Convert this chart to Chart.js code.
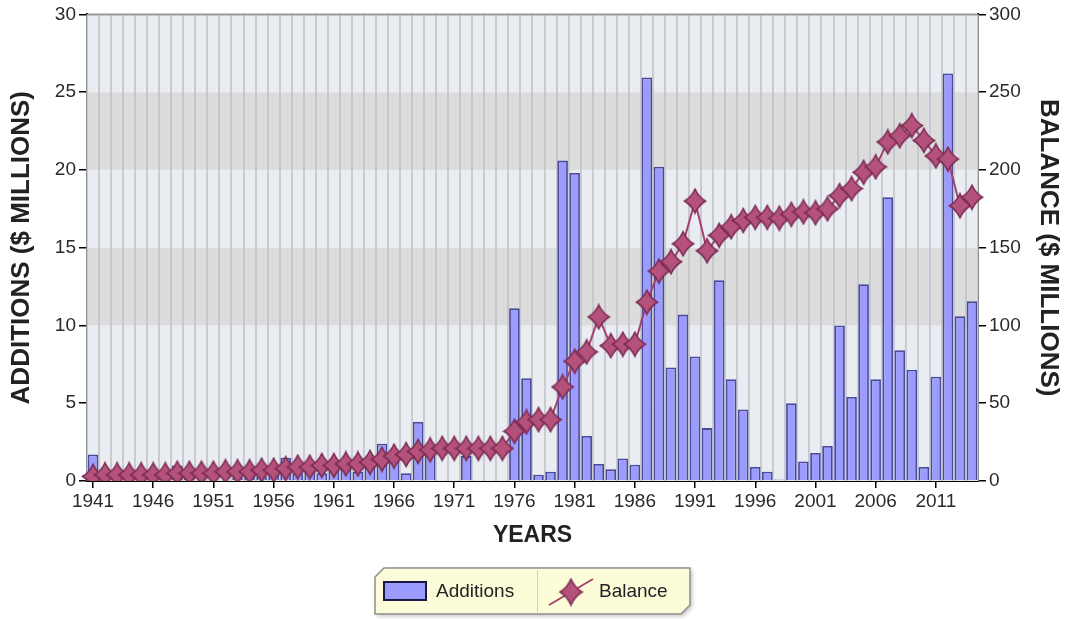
<!DOCTYPE html>
<html>
<head>
<meta charset="utf-8">
<script src="https://cdn.jsdelivr.net/npm/chart.js@4/dist/chart.umd.min.js"></script>
<style>
  html, body { margin: 0; padding: 0; background: #ffffff; }
  #wrap { width: 1065px; height: 619px; position: relative; }
</style>
</head>
<body>
<div id="wrap"><canvas id="c" width="1065" height="619"></canvas></div>
<script>
const years = ['1941','1942','1943','1944','1945','1946','1947','1948','1949','1950',
  '1951','1952','1953','1954','1955','1956','1957','1958','1959','1960',
  '1961','1962','1963','1964','1965','1966','1967','1968','1969','1970',
  '1971','1972','1973','1974','1975','1976','1977','1978','1979','1980',
  '1981','1982','1983','1984','1985','1986','1987','1988','1989','1990',
  '1991','1992','1993','1994','1995','1996','1997','1998','1999','2000',
  '2001','2002','2003','2004','2005','2006','2007','2008','2009','2010',
  '2011','2012','2013','2014'];

const additions = [1.7,0,0,0,0,0,0.2,1.0,0.3,0,
  0,0,0.2,0.3,0.3,0.5,1.5,0.5,0.8,0.5,
  0.8,0.9,0.6,1.2,2.4,1.4,0.5,3.8,1.7,0,
  0,1.6,0,0,0,11.1,6.6,0.4,0.6,20.6,
  19.8,2.9,1.1,0.75,1.45,1.05,25.95,20.2,7.3,10.7,
  8.0,3.4,12.9,6.55,4.6,0.9,0.6,0.1,5.0,1.25,
  1.8,2.25,10.0,5.4,12.65,6.55,18.25,8.4,7.15,0.9,
  6.7,26.2,10.6,11.55];

const balance = [3,4,4,4,4,4,4,5,5,5,
  5,6,6,6,7,7,8,9,9,10,
  10,11,11,12,14,16,17,19,20,21,
  21,21,21,21,21,32,38,39.5,39.5,60.5,
  77,83,105.5,87,88,88,115,135,141,152.5,
  180,148,158,163.5,167.5,169.5,169.5,169,171.5,173,
  172.5,175,183.5,188,198.5,202,218,222,228.5,219,
  209,207,177,182.5];

const leftTicks = [0,5,10,15,20,25,30];
const rightTicks = [0,50,100,150,200,250,300];
const seriesNames = ['Additions','Balance'];
const titles = { x: 'YEARS', y: 'ADDITIONS ($ MILLIONS)', y1: 'BALANCE ($ MILLIONS)' };

const FONT = "'Liberation Sans', Arial, sans-serif";

function makeStar(w, h, fill, stroke) {
  const c = document.createElement('canvas');
  c.width = w + 3; c.height = h + 3;
  const g = c.getContext('2d');
  const cx = c.width / 2, cy = c.height / 2;
  const kx = w * 0.17, ky = h * 0.17;
  g.beginPath();
  g.moveTo(cx, cy - h / 2);
  g.quadraticCurveTo(cx + kx, cy - ky, cx + w / 2, cy);
  g.quadraticCurveTo(cx + kx, cy + ky, cx, cy + h / 2);
  g.quadraticCurveTo(cx - kx, cy + ky, cx - w / 2, cy);
  g.quadraticCurveTo(cx - kx, cy - ky, cx, cy - h / 2);
  g.closePath();
  g.fillStyle = fill;
  g.fill();
  g.lineWidth = 1.5;
  g.strokeStyle = stroke;
  g.stroke();
  return c;
}
const starImg = makeStar(21, 24, '#b4527c', '#7a2a52');
const legendStar = makeStar(22, 26, '#b4527c', '#7a2a52');

const bgPlugin = {
  id: 'bands',
  beforeDatasetsDraw(chart) {
    const { ctx, chartArea: a, scales } = chart;
    const y = scales.y, x = scales.x;
    ctx.save();
    for (let i = 0; i < leftTicks.length - 1; i++) {
      const top = y.getPixelForValue(leftTicks[i + 1]);
      const bot = y.getPixelForValue(leftTicks[i]);
      const dark = (i === 2 || i === 4);
      ctx.fillStyle = dark ? '#dcdcdd' : '#e9ecf0';
      ctx.fillRect(a.left, top, a.right - a.left, bot - top);
    }
    const n = years.length;
    const w = (x.getPixelForValue(1) - x.getPixelForValue(0));
    ctx.strokeStyle = 'rgba(190,192,198,0.75)';
    ctx.lineWidth = 2;
    for (let i = 0; i <= n; i++) {
      const px = Math.round(x.getPixelForValue(0) - w / 2 + i * w);
      ctx.beginPath();
      ctx.moveTo(px, a.top);
      ctx.lineTo(px, a.bottom);
      ctx.stroke();
    }
    ctx.strokeStyle = '#9a9a9a';
    ctx.lineWidth = 2;
    ctx.beginPath();
    ctx.moveTo(a.left, a.top);
    ctx.lineTo(a.right, a.top);
    ctx.stroke();
    ctx.restore();
  },
  afterDraw(chart) {
    const ctx = chart.ctx;
    ctx.save();
    const L = 375, T = 568, R = 690, B = 614, cut = 9;
    ctx.shadowColor = 'rgba(0,0,0,0.25)';
    ctx.shadowBlur = 4;
    ctx.shadowOffsetX = 2;
    ctx.shadowOffsetY = 2;
    ctx.beginPath();
    ctx.moveTo(L + cut, T);
    ctx.lineTo(R, T);
    ctx.lineTo(R, B - cut);
    ctx.lineTo(R - cut, B);
    ctx.lineTo(L, B);
    ctx.lineTo(L, T + cut);
    ctx.closePath();
    ctx.fillStyle = '#fdfcd8';
    ctx.fill();
    ctx.shadowColor = 'transparent';
    ctx.lineWidth = 1.5;
    ctx.strokeStyle = '#8f8f8f';
    ctx.stroke();
    ctx.strokeStyle = '#cfcdb5';
    ctx.lineWidth = 1;
    ctx.beginPath();
    ctx.moveTo(537.5, T + 2);
    ctx.lineTo(537.5, B - 2);
    ctx.stroke();
    ctx.fillStyle = '#9c9cff';
    ctx.fillRect(384, 582, 42, 18);
    ctx.strokeStyle = '#1a1a40';
    ctx.lineWidth = 2;
    ctx.strokeRect(384, 582, 42, 18);
    ctx.font = '19px ' + FONT;
    ctx.fillStyle = '#222';
    ctx.textBaseline = 'middle';
    ctx.textAlign = 'left';
    ctx.fillText(chart.data.datasets[0].label, 436, 592);
    ctx.strokeStyle = '#a3426e';
    ctx.lineWidth = 2;
    ctx.beginPath();
    ctx.moveTo(549, 605);
    ctx.lineTo(593, 579);
    ctx.stroke();
    ctx.drawImage(legendStar, 571 - legendStar.width / 2, 592 - legendStar.height / 2);
    ctx.fillStyle = '#222';
    ctx.fillText(chart.data.datasets[1].label, 599, 592);
    ctx.restore();
  }
};

new Chart(document.getElementById('c'), {
  type: 'bar',
  data: {
    labels: years,
    datasets: [
      {
        type: 'bar',
        label: seriesNames[0],
        data: additions,
        yAxisID: 'y',
        backgroundColor: '#9c9cff',
        borderColor: '#4a4a9c',
        borderWidth: 1.8,
        categoryPercentage: 1.0,
        barPercentage: 0.88,
        order: 2
      },
      {
        type: 'line',
        label: seriesNames[1],
        data: balance,
        yAxisID: 'y1',
        borderColor: '#a3426e',
        borderWidth: 2,
        pointStyle: starImg,
        pointRadius: 10,
        tension: 0,
        order: 1
      }
    ]
  },
  options: {
    responsive: false,
    animation: false,
    layout: { padding: { top: 14, left: 0, right: 0, bottom: 66 } },
    plugins: { legend: { display: false }, tooltip: { enabled: false } },
    scales: {
      x: {
        offset: true,
        afterFit(s) { s.height = 72; },
        grid: { display: true, offset: false, drawOnChartArea: false, drawTicks: true, tickLength: 7, color: '#000', lineWidth: 1.5 },
        border: { display: true, color: '#000', width: 2 },
        ticks: {
          autoSkip: false, maxRotation: 0, padding: 2,
          color: '#2a2a2a', font: { family: FONT, size: 19 },
          callback(v, i) { return (i % 5 === 0) ? years[i] : null; }
        },
        title: { display: true, text: titles.x, color: '#222', font: { family: FONT, size: 23, weight: 'bold' }, padding: { top: 0, bottom: 4 } }
      },
      y: {
        position: 'left',
        min: leftTicks[0], max: leftTicks[leftTicks.length - 1],
        afterFit(s) { s.width = 87; },
        afterBuildTicks(s) { s.ticks = leftTicks.map(v => ({ value: v })); },
        grid: { drawOnChartArea: false, drawTicks: true, tickLength: 8, color: '#000', lineWidth: 1.5 },
        border: { display: true, color: '#000', width: 2 },
        ticks: { color: '#2a2a2a', padding: 3, font: { family: FONT, size: 19 } },
        title: { display: true, text: titles.y, color: '#222', font: { family: FONT, size: 26, weight: 'bold' }, padding: { top: 6, bottom: 4 } }
      },
      y1: {
        position: 'right',
        min: rightTicks[0], max: rightTicks[rightTicks.length - 1],
        afterFit(s) { s.width = 87; },
        afterBuildTicks(s) { s.ticks = rightTicks.map(v => ({ value: v })); },
        grid: { drawOnChartArea: false, drawTicks: true, tickLength: 8, color: '#000', lineWidth: 1.5 },
        border: { display: true, color: '#000', width: 2 },
        ticks: { color: '#2a2a2a', padding: 3, font: { family: FONT, size: 19 } },
        title: { display: true, text: titles.y1, color: '#222', font: { family: FONT, size: 26, weight: 'bold' }, padding: { top: 1, bottom: 4 } }
      }
    }
  },
  plugins: [bgPlugin]
});
</script>
</body>
</html>
